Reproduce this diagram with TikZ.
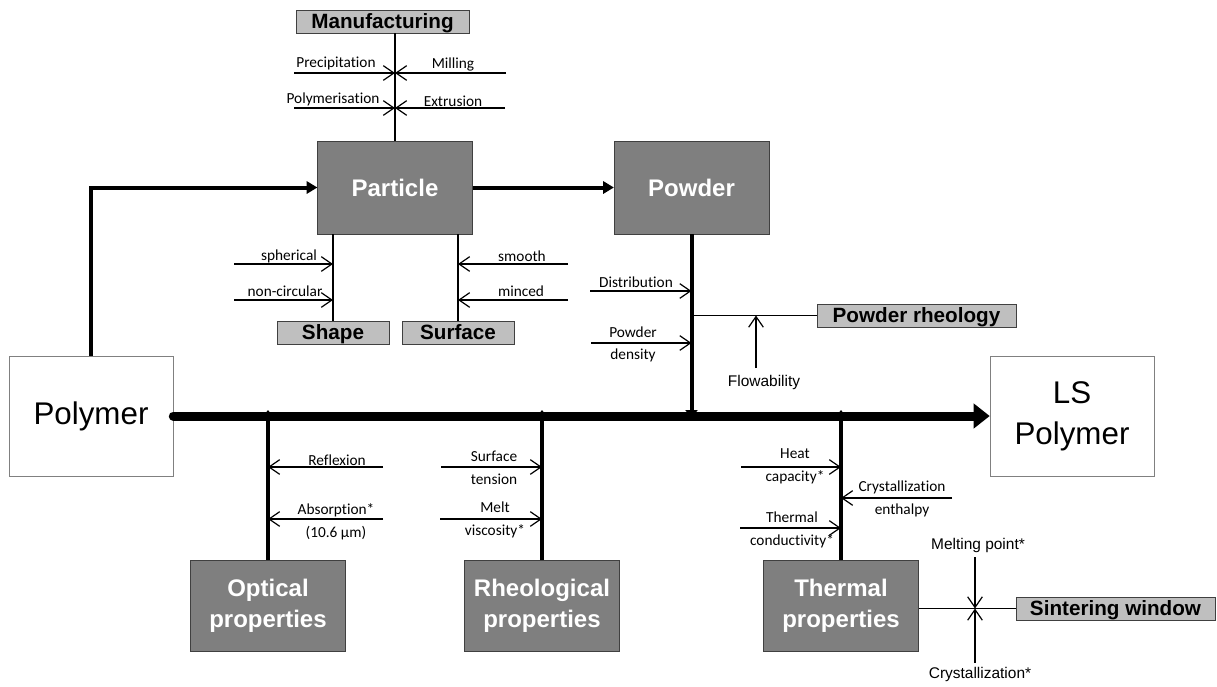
\documentclass[tikz,border=0pt]{standalone}
\usepackage{fontspec}
\setmainfont{Liberation Sans}
\newfontfamily\lblfont[Ligatures=CommonOff]{Carlito}
\usetikzlibrary{arrows.meta, calc, positioning}
\tikzset{>=latex}
\definecolor{boxdark}{HTML}{7F7F7F}
\definecolor{boxlight}{HTML}{BFBFBF}
\definecolor{boxline}{HTML}{404040}

\begin{document}
\begin{tikzpicture}[x=0.75pt, y=-0.75pt]
    \useasboundingbox (0,0) rectangle (1217,686);
    % boxes
    \begin{scope}[every node/.style={draw=boxline, fill=boxdark, text=white, align=center,
                  font=\bfseries\fontsize{18}{23.5}\selectfont,
                  minimum width=116pt, minimum height=70pt, inner sep=0pt}]
      \node (particle) at (395,187.5) {Particle};
      \node (powder) at (691.5,187.5) {Powder};
      \node[minimum height=68pt] (optical) at (268,605.5) {Optical\\properties};
      \node[minimum height=68pt] (rheo) at (542,605.5) {Rheological\\properties};
      \node[minimum height=68pt] (thermal) at (841,605.5) {Thermal\\properties};
    \end{scope}
    \begin{scope}[every node/.style={draw=boxline, fill=boxlight,
                  font=\bfseries\fontsize{15.5}{18}\selectfont,
                  text height=11pt, text depth=0pt,
                  minimum height=17pt, inner sep=0pt}]
      \node[minimum width=130pt] (manuf) at (382.5,21.5) {Manufacturing};
      \node[minimum width=84pt] (shape) at (333,332.5) {Shape};
      \node[minimum width=84pt] (surface) at (458,332.5) {Surface};
      \node[minimum width=149pt] (prheo) at (916.5,315.5) {Powder rheology};
      \node[minimum width=149pt] (sinter) at (1115.5,608.5) {Sintering window};
    \end{scope}
    \begin{scope}[every node/.style={draw=gray, fill=white, align=center,
                  font=\fontsize{23.5}{31}\selectfont,
                  minimum width=123pt, minimum height=90pt}]
      \node (polymer) at (91,416) {Polymer};
      \node (lspoly) at (1072,416) {LS\\Polymer};
    \end{scope}
    % labels
    \begin{scope}[every node/.style={align=center, inner sep=0pt,
                  font=\lblfont\fontsize{11.5}{17}\selectfont}]
      \node (tprec) at (336,63) {Precipitation};
      \node (tmill) at (453,64) {Milling};
      \node (tpoly) at (333,99) {Polymerisation};
      \node (textr) at (453,101) {Extrusion};
      \node (tsphe) at (289,256) {spherical};
      \node (tnonc) at (285,291) {non-circular};
      \node (tsmoo) at (522,256) {smooth};
      \node (tminc) at (521,291) {minced};
      \node (tdist) at (636,282) {Distribution};
      \node (tdens) at (633,344.5) {Powder\\density};
      \node (trefl) at (337,460) {Reflexion};
      \node (tabso) at (336,521.5) {Absorption*\\(10.6 µm)};
      \node (ttens) at (494,468) {Surface\\tension};
      \node (tvisc) at (495,520) {Melt\\viscosity*};
      \node (theat) at (795,466.5) {Heat\\capacity*};
      \node (tenth) at (902,499) {Crystallization\\enthalpy};
      \node (tcond) at (792,530) {Thermal\\conductivity*};
    \end{scope}
    \begin{scope}[every node/.style={inner sep=0pt, font=\fontsize{11.6}{14}\selectfont}]
      \node (tflow) at (764,382) {Flowability};
      \node (tmelt) at (978,545) {Melting point*};
      \node (tcrys) at (980,674) {Crystallization*};
    \end{scope}
    % free ends of the small arrows
    \coordinate (cprec) at (294,73);
    \coordinate (cmill) at (506,73);
    \coordinate (cpoly) at (294,108);
    \coordinate (cextr) at (505,108);
    \coordinate (csphe) at (234,264);
    \coordinate (cnonc) at (234,300);
    \coordinate (csmoo) at (568,264);
    \coordinate (cminc) at (568,300);
    \coordinate (cdist) at (590,291);
    \coordinate (cdens) at (591,343);
    \coordinate (cflow) at (756,368);
    \coordinate (crefl) at (383,467);
    \coordinate (cabso) at (383,519);
    \coordinate (ctens) at (441,467);
    \coordinate (cvisc) at (440,519);
    \coordinate (cheat) at (741,467);
    \coordinate (centh) at (952,498);
    \coordinate (ccond) at (740,528);
    \coordinate (cmelt) at (975,557);
    \coordinate (ccrys) at (975,663);
    \coordinate (mainedge) at (0,410);
    % thin lines
    \begin{scope}[line width=1pt, draw=black]
      \draw (particle.north) -- (particle.north |- manuf.south);
      \draw (shape.north) -- (shape.north |- particle.south);
      \draw (surface.north) -- (surface.north |- particle.south);
      \draw (prheo.west) -- (prheo.west -| powder.south);
      \draw (sinter.west) -- (sinter.west -| thermal.east);
    \end{scope}
    \begin{scope}[>={Straight Barb[length=8pt, width=11pt]}, line width=0.9pt]
      \path [->] (cprec) edge (cprec -| particle.north);
      \path [->] (cmill) edge (cmill -| particle.north);
      \path [->] (cpoly) edge (cpoly -| particle.north);
      \path [->] (cextr) edge (cextr -| particle.north);
      \path [->] (csphe) edge (csphe -| shape.north);
      \path [->] (cnonc) edge (cnonc -| shape.north);
      \path [->] (csmoo) edge (csmoo -| surface.north);
      \path [->] (cminc) edge (cminc -| surface.north);
      \path [->] (cdist) edge (cdist -| powder.south);
      \path [->] (cdens) edge (cdens -| powder.south);
      \path [->] (cflow) edge (cflow |- prheo.west);
      \path [->] (crefl) edge (crefl -| optical.north);
      \path [->] (cabso) edge (cabso -| optical.north);
      \path [->] (ctens) edge (ctens -| rheo.north);
      \path [->] (cvisc) edge (cvisc -| rheo.north);
      \path [->] (cheat) edge (cheat -| thermal.north);
      \path [->] (centh) edge (centh -| thermal.north);
      \path [->] (ccond) edge (ccond -| thermal.north);
      \path [->] (cmelt) edge (cmelt |- sinter.west);
      \path [->] (ccrys) edge (ccrys |- sinter.west);
    \end{scope}
    % thick lines
    \draw[line width=6.75pt, line cap=round, -{Triangle[length=12pt, width=18pt]}]
      (polymer.east) -- (lspoly.west);
    \begin{scope}[line width=3pt, >={Triangle[length=8pt, width=9pt]}]
      \draw[->] (polymer.north) |- (particle.west);
      \path [->] (particle) edge (powder);
    \end{scope}
    \begin{scope}[line width=3pt, >={Triangle[length=6pt, width=9pt]}]
      \path [->] (optical.north) edge (optical.north |- mainedge);
      \path [->] (rheo.north) edge (rheo.north |- mainedge);
      \path [->] (thermal.north) edge (thermal.north |- mainedge);
      \path [->] (powder.south) edge ($(powder.south |- polymer.east)+(0,2)$);
    \end{scope}
  \end{tikzpicture}
\end{document}
